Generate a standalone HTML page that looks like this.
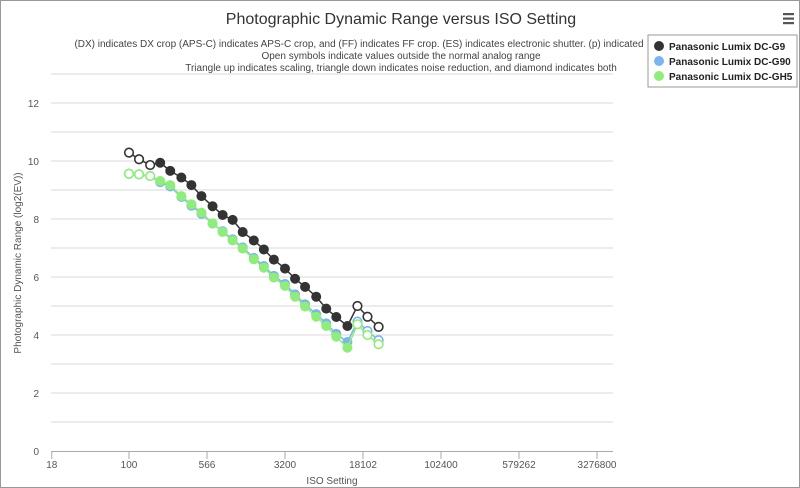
<!DOCTYPE html>
<html><head><meta charset="utf-8"><style>
body{margin:0;background:#fff;font-family:"Liberation Sans",sans-serif}
#wrap{position:relative;width:798px;height:486px;border:1px solid #999;overflow:hidden}
svg text{font-family:"Liberation Sans",sans-serif}
</style></head><body>
<div id="wrap">
<svg id="chart" width="798" height="486">
<text x="400" y="23" text-anchor="middle" font-size="16" fill="#333">Photographic Dynamic Range versus ISO Setting</text>
<g font-size="10" fill="#444" text-anchor="middle">
<text x="358" y="46">(DX) indicates DX crop (APS-C) indicates APS-C crop, and (FF) indicates FF crop. (ES) indicates electronic shutter. (p) indicated</text>
<text x="400" y="58">Open symbols indicate values outside the normal analog range</text>
<text x="400" y="70">Triangle up indicates scaling, triangle down indicates noise reduction, and diamond indicates both</text>
</g>
<g fill="#555">
<rect x="782" y="12" width="11" height="2.2"/><rect x="782" y="16.5" width="11" height="2.2"/><rect x="782" y="21" width="11" height="2.2"/>
</g>
<g id="grid"></g><g id="axes"></g><g id="series"></g>
<text transform="translate(20,262) rotate(-90)" text-anchor="middle" font-size="10" fill="#555">Photographic Dynamic Range (log2(EV))</text>
<text x="331" y="483" text-anchor="middle" font-size="10" fill="#555">ISO Setting</text>
<g>
<rect x="647" y="34" width="149" height="52" fill="#fff" stroke="#999"/>
<g><circle cx="658" cy="45" r="5" fill="#333"/><text x="668" y="49" font-size="10" font-weight="bold" fill="#222">Panasonic Lumix DC-G9</text></g>
<g><circle cx="658" cy="60" r="5" fill="#7cb5ec"/><text x="668" y="64" font-size="10" font-weight="bold" fill="#222">Panasonic Lumix DC-G90</text></g>
<g><circle cx="658" cy="75" r="5" fill="#90ed7d"/><text x="668" y="79" font-size="10" font-weight="bold" fill="#222">Panasonic Lumix DC-GH5</text></g>
</g>
</svg></div>
<script>
const isoValues=[100,125,160,200,250,320,400,500,640,800,1000,1250,1600,2000,2500,3200,4000,5000,6400,8000,10000,12800,16000,20000,25600];
const g9Values=[10.29,10.06,9.86,9.94,9.66,9.43,9.17,8.79,8.44,8.14,7.97,7.55,7.26,6.95,6.60,6.29,5.94,5.66,5.32,4.91,4.62,4.31,5.00,4.63,4.28];
const g90Values=[9.56,9.54,9.48,9.27,9.12,8.76,8.46,8.18,7.84,7.58,7.30,7.02,6.66,6.38,6.04,5.76,5.40,5.06,4.72,4.40,4.04,3.76,4.46,4.14,3.82];
const gh5Values=[9.56,9.54,9.48,9.31,9.17,8.79,8.51,8.22,7.85,7.55,7.26,6.98,6.61,6.32,5.98,5.69,5.32,4.98,4.63,4.31,3.94,3.56,4.37,4.00,3.68];
const openFlags=[1,1,1,0,0,0,0,0,0,0,0,0,0,0,0,0,0,0,0,0,0,0,1,1,1];
const xTicks=[18,100,566,3200,18102,102400,579262,3276800];
const yTicks=[0,2,4,6,8,10,12];
const NS="http://www.w3.org/2000/svg";
const X0=50,X1=612,Y0=450,YTOP=73;
function xs(v){return 128+Math.log2(v/100)*31.2;}
function ys(v){return Y0-v*29;}
function mk(t,a,p){const e=document.createElementNS(NS,t);for(const k in a)e.setAttribute(k,a[k]);p.appendChild(e);return e;}
const grid=document.getElementById('grid'),axes=document.getElementById('axes'),ser=document.getElementById('series');
for(let v=1;v<=13;v++){const l=mk('line',{x1:X0,x2:X1,y1:ys(v),y2:ys(v),stroke:'#d8d8d8'},grid);

}
mk('line',{x1:X0,x2:X1,y1:Y0+.5,y2:Y0+.5,stroke:'#aaa'},axes);
yTicks.forEach(v=>{const t=mk('text',{x:38,y:ys(v)+4,'text-anchor':'end','font-size':10,fill:'#555'},axes);t.textContent=v;

});
xTicks.forEach(v=>{const x=xs(v);mk('line',{x1:x,x2:x,y1:Y0,y2:Y0+8,stroke:'#aaa'},axes);
const t=mk('text',{x:x,y:Y0+17,'text-anchor':'middle','font-size':10,fill:'#555'},axes);t.textContent=v;

});
function draw(vals,col,name){const g=mk('g',{},ser);


mk('polyline',{points:vals.map((v,i)=>xs(isoValues[i])+','+ys(v)).join(' '),fill:'none',stroke:col,'stroke-width':1.5},g);
vals.forEach((v,i)=>{const c=mk('circle',{cx:xs(isoValues[i]),cy:ys(v),r:openFlags[i]?4.3:5,fill:openFlags[i]?'#fff':col,stroke:col,'stroke-width':openFlags[i]?1.6:0},g);

});}
draw(g90Values,'#7cb5ec','series-g90');
draw(gh5Values,'#90ed7d','series-gh5');
draw(g9Values,'#333','series-g9');
</script>
</body></html>
